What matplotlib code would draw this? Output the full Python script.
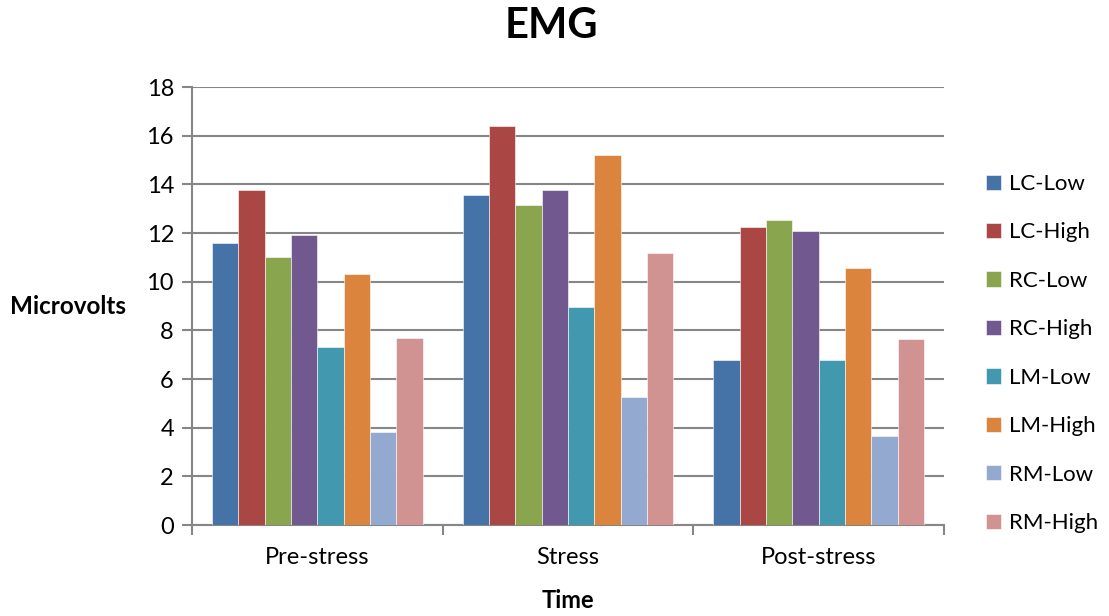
import matplotlib
matplotlib.use("Agg")
import matplotlib.pyplot as plt
import numpy as np

plt.rcParams['font.family'] = ['Lato', 'DejaVu Sans']

categories = ["Pre-stress", "Stress", "Post-stress"]
series_names = ["LC-Low", "LC-High", "RC-Low", "RC-High", "LM-Low", "LM-High", "RM-Low", "RM-High"]
lc_low = [11.60, 13.58, 6.80]
lc_high = [13.75, 16.40, 12.23]
rc_low = [11.00, 13.17, 12.52]
rc_high = [11.90, 13.76, 12.09]
lm_low = [7.30, 8.97, 6.80]
lm_high = [10.33, 15.20, 10.57]
rm_low = [3.82, 5.28, 3.64]
rm_high = [7.69, 11.16, 7.66]
series_values = [lc_low, lc_high, rc_low, rc_high, lm_low, lm_high, rm_low, rm_high]
colors = ["#4572A7", "#AA4643", "#89A54E", "#71588F", "#4198AF", "#DB843D", "#93A9CF", "#D19392"]

fig = plt.figure(figsize=(11.09, 6.16), dpi=100)
ax = fig.add_axes([192/1109, 1-525/616, (944-192)/1109, (525-87)/616])

x = np.arange(len(categories))
n = len(series_names)
bw = 0.1052
for i, (name, vals, c) in enumerate(zip(series_names, series_values, colors)):
    ax.bar(x + (i - (n-1)/2) * bw, vals, width=bw, color=c, label=name,
           edgecolor='white', linewidth=0.4, zorder=3)

ax.set_xlim(-0.5, 2.5)
ax.set_ylim(0, 18)
ax.set_yticks(np.arange(0, 19, 2))
ax.yaxis.grid(True, color='#868686', linewidth=1.5, zorder=0)
ax.set_axisbelow(True)
for s in ['top', 'right']:
    ax.spines[s].set_visible(False)
for s in ['left', 'bottom']:
    ax.spines[s].set_color('#868686')
    ax.spines[s].set_linewidth(1.5)

ax.set_xticks([-0.5, 0.5, 1.5, 2.5])
ax.set_xticklabels([])
ax.set_xticks(x, minor=True)
ax.set_xticklabels(categories, minor=True)
ax.tick_params(axis='x', which='major', length=7, width=1.5, color='#868686', direction='out')
ax.tick_params(axis='x', which='minor', length=0, labelsize=17, pad=16)
ax.tick_params(axis='y', length=7, width=1.5, color='#868686', direction='out', labelsize=17, pad=6)

fig.text(551/1109, 1-26/616, "EMG", ha='center', va='center', fontsize=30, fontweight='bold')
fig.text(68/1109, 1-307/616, "Microvolts", ha='center', va='center', fontsize=17.5, fontweight='bold')
fig.text(568/1109, 1-600/616, "Time", ha='center', va='center', fontsize=17, fontweight='bold')

fig.legend(loc='center left', bbox_to_anchor=(986/1109, 1-353.5/616), frameon=False,
           fontsize=16, handlelength=0.68, handleheight=0.68, handletextpad=0.35,
           labelspacing=1.28, borderpad=0, borderaxespad=0)

fig.savefig("out.png", dpi=100)
